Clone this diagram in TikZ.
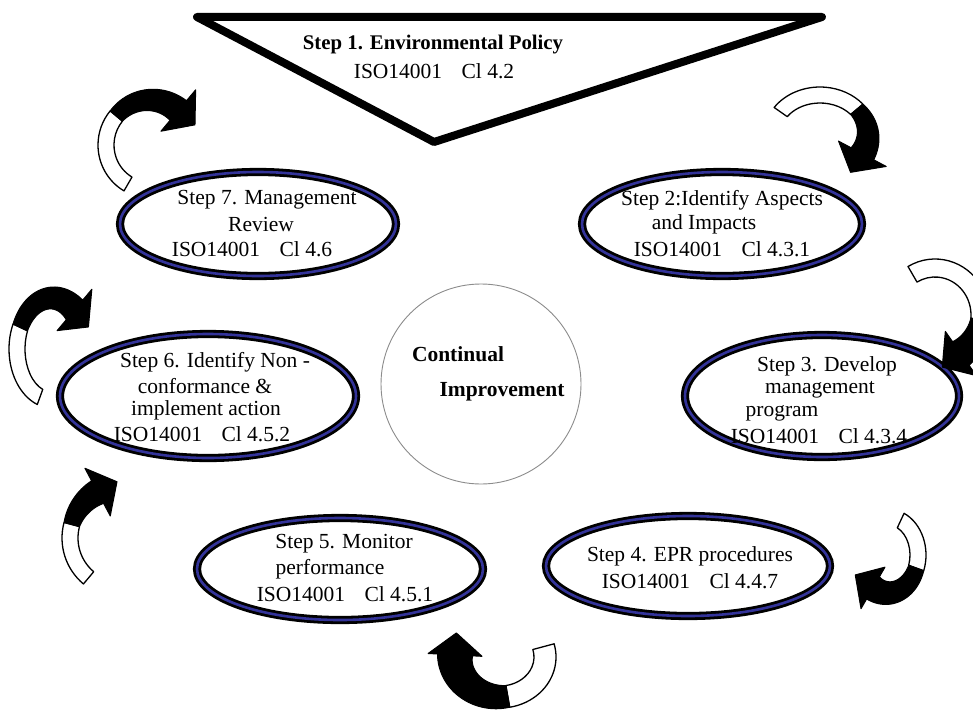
\documentclass[tikz,border=0pt]{standalone}
\usepackage{fontspec}
\setmainfont{Liberation Serif}
\usetikzlibrary{shapes.geometric,calc}
\definecolor{ringblue}{RGB}{51,51,153}
\definecolor{circgray}{RGB}{140,140,140}
\tikzset{
  ell/.style={ellipse, draw=black, line width=2.8pt, double=ringblue, double distance=2.6pt, fill=white, inner sep=0pt},
  txt/.style={font=\fontsize{21.5}{24}\selectfont, inner sep=0pt},
  btxt/.style={font=\fontsize{21.5}{24}\selectfont\bfseries, inner sep=0pt},
  wband/.style={fill=white, draw=black, line width=1.3pt, line join=round},
  bband/.style={fill=black, draw=black, line width=1pt, line join=round},
  tri/.style={draw=black, line width=8pt, line join=round, fill=white},
  ring/.style={circle, draw=circgray, line width=0.9pt, inner sep=0pt}
}
\newcommand\isosp{\hspace{0.9em}}
\def\barb{27}
% point on an ellipse around (\ccx,\ccy)
\newcommand\carrpt[4]{%
  \pgfmathsetmacro\tmpx{\ccx+(#3)*cos(#2)}%
  \pgfmathsetmacro\tmpy{\ccy+(#4)*sin(#2)}%
  \coordinate (#1) at (\tmpx,\tmpy);}
% curved block arrow: cx cy rx ry halfwidth a0 amid a1 L(signed: + increasing angle)
\newcommand\carr[9]{%
  \def\ccx{#1}\def\ccy{#2}%
  \pgfmathsetmacro\wb{1.6*#5}%
  \pgfmathsetmacro\rxo{#3+#5}\pgfmathsetmacro\ryo{#4+#5}%
  \pgfmathsetmacro\rxi{#3-#5}\pgfmathsetmacro\ryi{#4-#5}%
  \carrpt{cw1}{#6}{\rxo}{\ryo}%
  \carrpt{cw2}{#7}{\rxi}{\ryi}%
  \carrpt{cb2}{#8}{#3+\barb}{#4+\barb}%
  \carrpt{cb3}{#8}{#3-\barb}{#4-\barb}%
  \pgfmathsetmacro\sg{#9>0?1:-1}%
  \pgfmathsetmacro\tx{-\sg*#3*sin(#8)}%
  \pgfmathsetmacro\ty{\sg*#4*cos(#8)}%
  \pgfmathsetmacro\tn{sqrt(\tx*\tx+\ty*\ty)}%
  \pgfmathsetmacro\Px{#1+#3*cos(#8)+abs(#9)*\tx/\tn}%
  \pgfmathsetmacro\Py{#2+#4*sin(#8)+abs(#9)*\ty/\tn}%
  \coordinate (ctip) at (\Px,\Py);
  \filldraw[wband] (cw1) arc[start angle=#6,end angle=#7,x radius=\rxo,y radius=\ryo]
     -- (cw2) arc[start angle=#7,end angle=#6,x radius=\rxi,y radius=\ryi] -- cycle;
  \filldraw[bband]
     plot[domain=#7:#8, samples=30, variable=\t]
       ({#1+(#3+#5+(\wb-#5)*(\t-#7)/(#8-#7))*cos(\t)},{#2+(#4+#5+(\wb-#5)*(\t-#7)/(#8-#7))*sin(\t)})
     -- (cb2) -- (ctip) -- (cb3)
     -- plot[domain=#8:#7, samples=30, variable=\t]
       ({#1+(#3-#5-(\wb-#5)*(\t-#7)/(#8-#7))*cos(\t)},{#2+(#4-#5-(\wb-#5)*(\t-#7)/(#8-#7))*sin(\t)})
     -- cycle;
}
\begin{document}
\begin{tikzpicture}[x=1pt,y=-1pt]
\useasboundingbox (0,0) rectangle (973,709);
\clip (0,0) rectangle (973,709);
\fill[white] (0,0) rectangle (973,709);

% Step 1 triangle
\coordinate (tl) at (197,17);
\coordinate (tr) at (822,17);
\coordinate (tb) at (434,142);
\draw[tri] (tl) -- (tr) -- (tb) -- cycle;
\node[btxt, font=\fontsize{20.8}{24}\selectfont\bfseries] (s1a) at (433,45) {Step 1. Environmental Policy};
\node[txt] (s1b) at (434,71) {ISO14001\isosp Cl 4.2};

% central circle
\node[ring, minimum size=200pt] (ci) at (481,384) {};
\node[btxt] (ci1) at (458,354) {Continual};
\node[btxt] (ci2) at (502,392) {Improvement};

% step ellipses
\node[ell, minimum width=276pt, minimum height=104pt] (e7) at (258,224) {};
\node[txt] (t7a) at (267,200) {Step 7. Management};
\node[txt] (t7b) at (261,224) {Review};
\node[txt] (t7c) at (252,249) {ISO14001\isosp Cl 4.6};

\node[ell, minimum width=280pt, minimum height=104pt] (e2) at (722,224) {};
\node[txt] (t2a) at (722,200) {Step 2:Identify Aspects};
\node[txt] (t2b) at (704,224) {and Impacts};
\node[txt] (t2c) at (722,249) {ISO14001\isosp Cl 4.3.1};

\node[ell, minimum width=296pt, minimum height=124pt] (e6) at (208,396) {};
\node[txt] (t6a) at (215,362) {Step 6. Identify Non -};
\node[txt] (t6b) at (205,386) {conformance \&};
\node[txt] (t6c) at (206,410) {implement action};
\node[txt] (t6d) at (202,434) {ISO14001\isosp Cl 4.5.2};

\node[ell, minimum width=274pt, minimum height=122pt] (e3) at (822,396) {};
\node[txt] (t3a) at (827,366) {Step 3. Develop};
\node[txt] (t3b) at (820,390) {management};
\node[txt] (t3c) at (782,413) {program};
\node[txt] (t3d) at (819,436) {ISO14001\isosp Cl 4.3.4};

\node[ell, minimum width=286pt, minimum height=102pt] (e5) at (340,569) {};
\node[txt] (t5a) at (344,544) {Step 5. Monitor};
\node[txt] (t5b) at (330,569) {performance};
\node[txt] (t5c) at (345,594) {ISO14001\isosp Cl 4.5.1};

\node[ell, minimum width=284pt, minimum height=100pt] (e4) at (688,566) {};
\node[txt] (t4a) at (690,556) {Step 4. EPR procedures};
\node[txt] (t4b) at (690,581) {ISO14001\isosp Cl 4.4.7};

% curved block arrows
\carr{150}{145}{44}{45}{8}{120}{220}{310}{22}
\carr{820}{135}{48}{40}{8}{215}{320}{388}{22}
\carr{935}{315}{45}{47}{9}{240}{365}{415}{23}
\def\barb{24}
\carr{888}{555}{30}{38}{8}{295}{380}{480}{22}
\def\barb{27}
\carr{500}{657}{45}{40}{11}{-15}{80}{183}{22}
\carr{122}{538}{52}{52}{8}{130}{195}{242}{22}
\carr{52}{349}{35}{51}{8}{110}{205}{310}{22}
\end{tikzpicture}
\end{document}
